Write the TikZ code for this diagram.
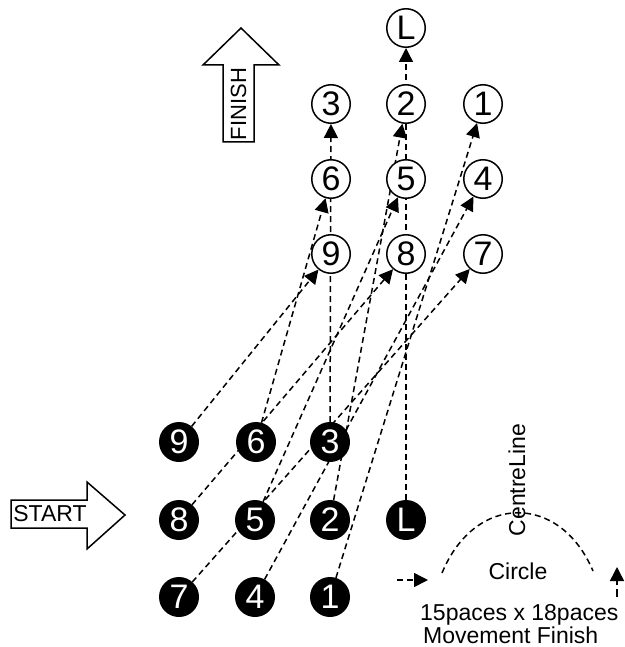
\documentclass[tikz,border=0pt]{standalone}
\usepackage{fontspec}
\setmainfont{Liberation Sans}
\usetikzlibrary{arrows.meta,backgrounds}
\begin{document}
\begin{tikzpicture}[x=1pt,y=-1pt,
  spot/.style={circle,minimum size=38.5pt,inner sep=0pt,line width=1.5pt,font=\fontsize{34}{34}\selectfont},
  fin/.style={spot,draw=black,fill=white},
  sta/.style={spot,draw=black,fill=black,text=white},
  conn/.style={line width=1.5pt,dash pattern=on 6pt off 4pt,-{Triangle[length=14pt,width=14pt]}},
  lbl/.style={font=\fontsize{23}{23}\selectfont,inner sep=0pt},
  bigarrow/.style={draw=black,fill=white,line width=1.5pt,line join=miter}]
\useasboundingbox (0,0) rectangle (624,647);
% finish (white) positions
\node[fin] (wL) at (406,28) {L};
\node[fin] (w3) at (331,104) {3};
\node[fin] (w2) at (406,104) {2};
\node[fin] (w1) at (483,104) {1};
\node[fin] (w6) at (331,179) {6};
\node[fin] (w5) at (406,179) {5};
\node[fin] (w4) at (483,179) {4};
\node[fin] (w9) at (331,254) {9};
\node[fin] (w8) at (406,254) {8};
\node[fin] (w7) at (483,254) {7};
% start (black) positions
\node[sta] (b9) at (179,442) {9};
\node[sta] (b6) at (256,442) {6};
\node[sta] (b3) at (330,442) {3};
\node[sta] (b8) at (179,520) {8};
\node[sta] (b5) at (255,520) {5};
\node[sta] (b2) at (330,520) {2};
\node[sta] (bL) at (406,520) {L};
\node[sta] (b7) at (179,597) {7};
\node[sta] (b4) at (255,597) {4};
\node[sta] (b1) at (330,597) {1};
\begin{pgfonlayer}{background}
\draw[conn] (b9) -- (w9);
\draw[conn] (b6) -- (w6);
\draw[conn] (b3) -- (w3);
\draw[conn] (b8) -- (w8);
\draw[conn] (b5) -- (w5);
\draw[conn] (b2) -- (w2);
\draw[conn] (bL) -- (wL);
\draw[conn] (b7) -- (w7);
\draw[conn] (b4) -- (w4);
\draw[conn] (b1) -- (w1);
\end{pgfonlayer}
% FINISH arrow
\draw[bigarrow] (223,142) -- (223,65) -- (203,65) -- (241,28) -- (279,65) -- (254,65) -- (254,142) -- cycle;
\node[lbl,font=\fontsize{22}{22}\selectfont,rotate=90] (finish) at (238.5,104) {FINISH};
% START arrow
\draw[bigarrow] (11,500) -- (87,500) -- (87,482) -- (125,515) -- (87,549) -- (87,528) -- (11,528) -- cycle;
\node[lbl] (start) at (50,514) {START};
% legend
\draw[line width=1.5pt,dash pattern=on 6pt off 4pt] (442,573) .. controls (475,493) and (560,493) .. (593,571);
\node[lbl,rotate=90] (centre) at (517,480) {CentreLine};
\node[lbl] (circ) at (518,571) {Circle};
\coordinate (la1) at (397,580);
\coordinate (la2) at (428,580);
\draw[conn] (la1) -- (la2);
\coordinate (ra1) at (617,597);
\coordinate (ra2) at (617,567);
\draw[conn,dash pattern=on 8pt off 4pt] (ra1) -- (ra2);
\node[lbl,anchor=base west] (paces) at (420,620) {15paces x 18paces};
\node[lbl,anchor=base west] (move) at (423,643) {Movement Finish};
\end{tikzpicture}
\end{document}
